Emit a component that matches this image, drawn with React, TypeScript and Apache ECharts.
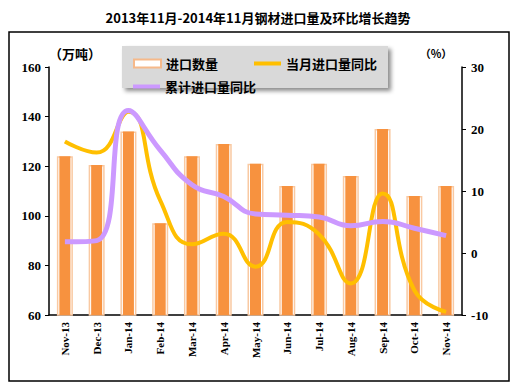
import React, { useEffect, useRef } from "react";
import * as echarts from "echarts";

const categories = ["Nov-13", "Dec-13", "Jan-14", "Feb-14", "Mar-14", "Apr-14", "May-14", "Jun-14", "Jul-14", "Aug-14", "Sep-14", "Oct-14", "Nov-14"];
const importVolume = [124, 120.5, 134, 97, 124, 129, 121, 112, 121, 116, 135, 108, 112];
const monthlyYoY = [18, 16.2, 22.8, 8.5, 1.4, 3.1, -2.2, 5, 3, -4.9, 9.6, -6, -9.5];
const cumulativeYoY = [1.8, 2, 23, 16.6, 11, 9.1, 6.3, 6.1, 5.8, 4.4, 5.1, 4, 2.8];
const leftTicks = { min: 60, max: 160, interval: 20 };
const rightTicks = { min: -10, max: 30, interval: 10 };

const CJK = "'Noto Sans CJK SC', sans-serif";
const SERIF = "'Liberation Serif', serif";
const LINE_ICON = "path://M0,0h27v4h-27z";

export default function App() {
  const ref = useRef<HTMLDivElement>(null);
  useEffect(() => {
    if (!ref.current) return;
    const chart = echarts.init(ref.current, null, { renderer: "svg" });
    chart.setOption({
      animation: false,
      backgroundColor: "#fff",
      title: {
        text: "2013年11月-2014年11月钢材进口量及环比增长趋势",
        left: "center",
        top: 6,
        textStyle: { fontFamily: CJK, fontWeight: "bold", fontSize: 13, color: "#000" },
      },
      graphic: [
        { type: "rect", z: 0, shape: { x: 9, y: 32, width: 500, height: 349 }, style: { fill: "none", stroke: "#000", lineWidth: 1.5 } },
        { type: "rect", z: 1, shape: { x: 122, y: 46, width: 266, height: 42 }, style: { fill: "#d9d9d9", shadowBlur: 4, shadowOffsetX: 3, shadowOffsetY: 3, shadowColor: "rgba(0,0,0,0.45)" } },
        { type: "text", z: 2, x: 75, y: 53, style: { text: "（万吨）", fontFamily: CJK, fontWeight: "bold", fontSize: 13, fill: "#000", align: "center", verticalAlign: "middle" } },
        { type: "text", z: 2, x: 436, y: 53, style: { text: "（%）", fontFamily: CJK, fontWeight: "bold", fontSize: 11, fill: "#000", align: "center", verticalAlign: "middle" } },
      ],
      legend: [
        {
          z: 5,
          left: 128,
          top: 52,
          itemWidth: 27,
          itemHeight: 8,
          itemGap: 36,
          textStyle: { fontFamily: CJK, fontWeight: "bold", fontSize: 13, color: "#000" },
          data: [
            { name: "进口数量", icon: "rect", itemStyle: { color: "#fff", borderColor: "#f6b98a", borderWidth: 2 } },
            { name: "当月进口量同比", icon: LINE_ICON, itemStyle: { color: "#ffbf00" } },
          ],
        },
        {
          z: 5,
          left: 128,
          top: 75,
          itemWidth: 27,
          itemHeight: 8,
          textStyle: { fontFamily: CJK, fontWeight: "bold", fontSize: 13, color: "#000" },
          data: [{ name: "累计进口量同比", icon: LINE_ICON, itemStyle: { color: "#cc99ff" } }],
        },
      ],
      grid: { left: 49, right: 54, top: 67, bottom: 73 },
      xAxis: [
        {
          type: "category",
          data: categories,
          axisLine: { onZero: false, lineStyle: { color: "#000", width: 1.5 } },
          axisTick: { inside: true, length: 4, lineStyle: { color: "#000" } },
          axisLabel: { rotate: 90, margin: 7, fontFamily: SERIF, fontWeight: "bold", fontSize: 11, color: "#000" },
        },
        {
          type: "category",
          data: categories,
          show: false,
          position: "bottom",
        },
      ],
      yAxis: [
        {
          type: "value",
          ...leftTicks,
          splitLine: { show: false },
          axisLine: { show: true, lineStyle: { color: "#000", width: 1.5 } },
          axisTick: { show: true, length: 4, lineStyle: { color: "#000" } },
          axisLabel: { margin: 8, fontFamily: SERIF, fontWeight: "bold", fontSize: 13, color: "#000" },
        },
        {
          type: "value",
          ...rightTicks,
          splitLine: { show: false },
          axisLine: { show: true, lineStyle: { color: "#000", width: 1.5 } },
          axisTick: { show: true, length: 4, lineStyle: { color: "#000" } },
          axisLabel: { margin: 9, fontFamily: SERIF, fontWeight: "bold", fontSize: 13, color: "#000" },
        },
      ],
      series: [
        {
          name: "进口数量",
          type: "bar",
          data: importVolume,
          barWidth: 16,
          itemStyle: { color: "#fff", borderColor: "#f9c9a2", borderWidth: 1.5 },
          z: 2,
        },
        {
          name: "进口数量",
          type: "bar",
          xAxisIndex: 1,
          data: importVolume,
          barWidth: 11,
          itemStyle: { color: "#f7923f" },
          z: 3,
        },
        {
          name: "当月进口量同比",
          type: "line",
          yAxisIndex: 1,
          data: monthlyYoY,
          smooth: 0.5,
          symbol: "none",
          lineStyle: { color: "#ffbf00", width: 4 },
          itemStyle: { color: "#ffbf00" },
          z: 4,
        },
        {
          name: "累计进口量同比",
          type: "line",
          yAxisIndex: 1,
          data: cumulativeYoY,
          smooth: 0.5,
          symbol: "none",
          lineStyle: { color: "#cc99ff", width: 5 },
          itemStyle: { color: "#cc99ff" },
          z: 5,
        },
      ],
    });
    return () => chart.dispose();
  }, []);
  return <div ref={ref} style={{ width: 516, height: 388, position: "absolute", left: 0, top: 0 }} />;
}
